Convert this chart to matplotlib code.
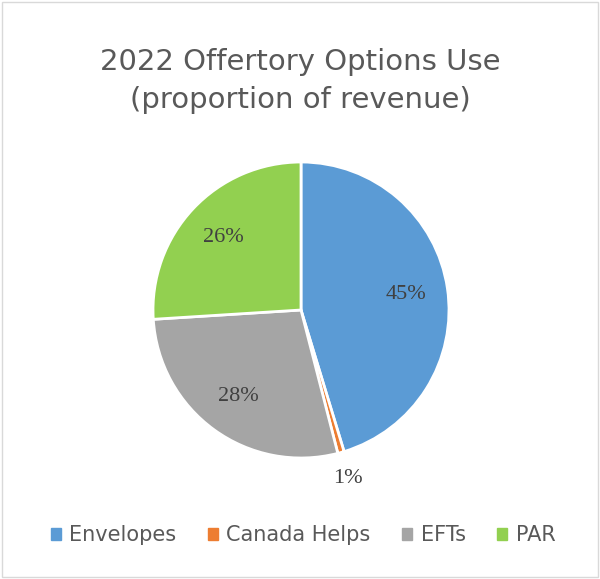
import matplotlib.pyplot as plt
import numpy as np
from matplotlib.patches import Rectangle

labels = ["Envelopes", "Canada Helps", "EFTs", "PAR"]
values = [45.3, 0.7, 28.0, 26.0]
pct_labels = ["45%", "1%", "28%", "26%"]
colors = ["#5B9BD5", "#ED7D31", "#A5A5A5", "#92D050"]

fig = plt.figure(figsize=(6, 5.79), dpi=100)
ax = fig.add_axes([116 / 600, 84 / 579, 370 / 600, 370 / 579])

wedges, _ = ax.pie(values, colors=colors, startangle=90, counterclock=False,
                   wedgeprops=dict(edgecolor="white", linewidth=2))
ax.set_xlim(-1.25, 1.25)
ax.set_ylim(-1.25, 1.25)
ax.set_aspect("equal")

# percentage labels
for i, w in enumerate(wedges):
    ang = np.deg2rad((w.theta1 + w.theta2) / 2)
    r = 0.72
    if values[i] < 5:
        r = 1.18
    ax.text(r * np.cos(ang), r * np.sin(ang), pct_labels[i], ha="center", va="center",
            fontsize=16, family="Liberation Serif", color="#404040")

fig.text(0.5, 1 - 62 / 579, "2022 Offertory Options Use", ha="center", va="center",
         fontsize=21, color="#595959", family="DejaVu Sans")
fig.text(0.5, 1 - 100 / 579, "(proportion of revenue)", ha="center", va="center",
         fontsize=21, color="#595959", family="DejaVu Sans")

handles = [plt.Rectangle((0, 0), 1, 1, color=c) for c in colors]
fig.legend(handles, labels, loc="center", bbox_to_anchor=(0.505, 1 - 535 / 579), ncol=4,
           frameon=False, fontsize=15, handlelength=0.5, handleheight=0.5,
           handletextpad=0.4, columnspacing=1.5,
           labelcolor="#595959")

fig.patches.append(Rectangle((0.003, 0.003), 0.994, 0.994, transform=fig.transFigure,
                             fill=False, edgecolor="#D9D9D9", linewidth=1))

fig.savefig("out.png", dpi=100)
